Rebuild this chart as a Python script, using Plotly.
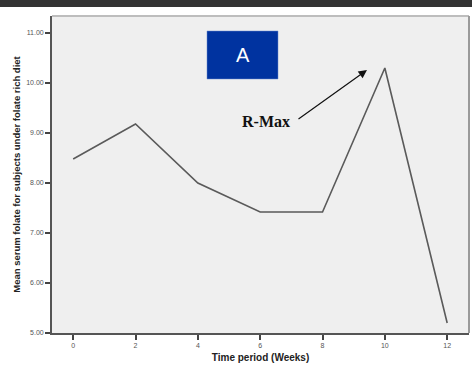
import plotly.graph_objects as go

weeks = [0, 2, 4, 6, 8, 10, 12]
folate = [8.48, 9.18, 8.0, 7.42, 7.42, 10.3, 5.2]
y_ticks = [5, 6, 7, 8, 9, 10, 11]
y_tick_labels = ["5.00", "6.00", "7.00", "8.00", "9.00", "10.00", "11.00"]

W, H = 472, 370
L, R, T, B = 52, 3, 16, 37
pw, ph = W - L - R, H - T - B

def px(x):
    return (x - L) / pw

def py(y):
    return (H - B - y) / ph

fig = go.Figure()
fig.add_trace(go.Scatter(x=weeks, y=folate, mode="lines",
                         line=dict(color="#5a5a5a", width=1.6),
                         hoverinfo="skip", showlegend=False))

fig.update_layout(
    width=W, height=H,
    margin=dict(l=L, r=R, t=T, b=B),
    paper_bgcolor="white",
    plot_bgcolor="#efefef",
    font=dict(family="Arial, Liberation Sans, sans-serif", color="#222"),
    xaxis=dict(range=[-0.68, 12.7], tickvals=weeks, ticktext=[str(w) for w in weeks],
               showgrid=False, zeroline=False, ticks="outside", ticklen=5,
               tickcolor="#444", tickwidth=1.5, showline=True, linecolor="#555", linewidth=1.8,
               tickfont=dict(size=7, color="#555"),
               title=dict(text="<b>Time period (Weeks)</b>", font=dict(size=10, color="#222"), standoff=6)),
    yaxis=dict(range=[5, 11.34], tickvals=y_ticks, ticktext=y_tick_labels,
               showgrid=False, zeroline=False, ticks="outside", ticklen=5,
               tickcolor="#444", tickwidth=1.5, showline=True, linecolor="#555", linewidth=1.8,
               tickfont=dict(size=7, color="#555"),
               title=dict(text="<b>Mean serum folate for subjects under folate rich diet</b>",
                          font=dict(size=9.5, color="#222"), standoff=4)),
    shapes=[
        dict(type="rect", xref="paper", yref="paper",
             x0=px(0), x1=px(W), y0=py(7), y1=py(-1),
             fillcolor="#333333", line=dict(width=0), layer="above"),
        dict(type="line", xref="paper", yref="paper",
             x0=0, x1=1, y0=1, y1=1, line=dict(color="#bdbdbd", width=1.8), layer="above"),
        dict(type="line", xref="paper", yref="paper",
             x0=1, x1=1, y0=0, y1=1, line=dict(color="#9a9a9a", width=2), layer="above"),
        dict(type="rect", xref="paper", yref="paper",
             x0=px(207), x1=px(278), y0=py(79), y1=py(31),
             fillcolor="#0033a0", line=dict(color="#6a8acc", width=0.5), layer="above"),
    ],
    annotations=[
        dict(xref="paper", yref="paper", x=px(242.5), y=py(55), text="A",
             showarrow=False, font=dict(size=20, color="white", family="Arial, Liberation Sans"),
             xanchor="center", yanchor="middle"),
        dict(xref="paper", yref="paper", x=px(266), y=py(121), text="<b>R-Max</b>",
             showarrow=False, font=dict(size=16, color="#111", family="Liberation Serif, Times New Roman, serif"),
             xanchor="center", yanchor="middle"),
        dict(xref="paper", yref="paper",
             x=px(367), y=py(70), ax=297 - 367, ay=120 - 70, text="",
             showarrow=True, arrowhead=2, arrowsize=1.4, arrowwidth=1.2, arrowcolor="#111"),
    ],
)

fig.write_html("out.html", config={"displayModeBar": False},
               post_script="document.body.style.margin='0';document.body.style.padding='0';")
